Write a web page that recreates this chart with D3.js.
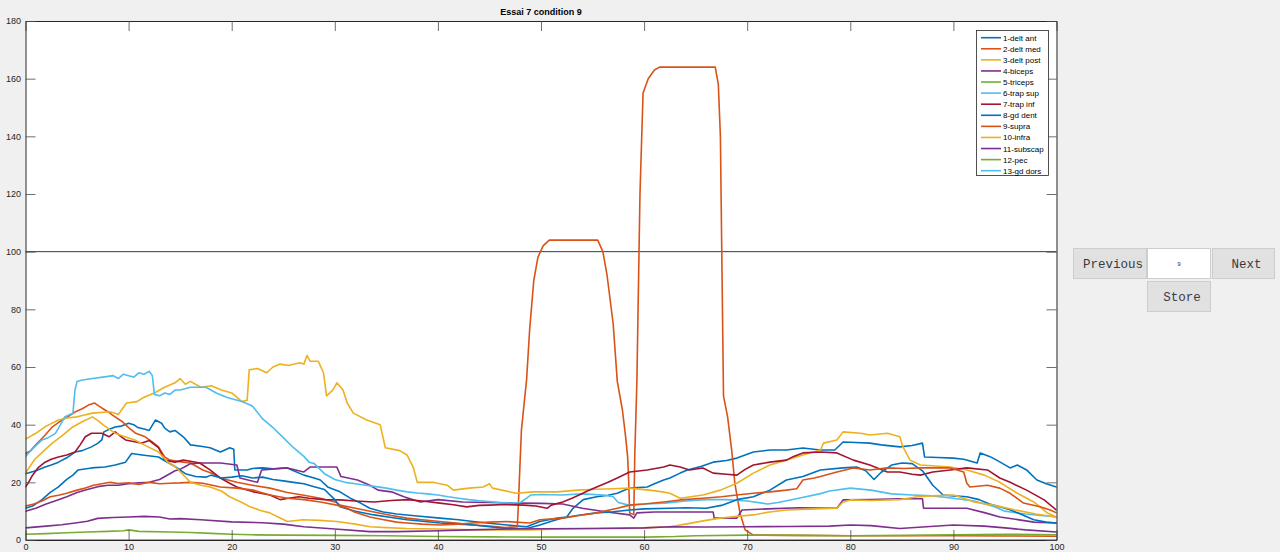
<!DOCTYPE html>
<html>
<head>
<meta charset="utf-8">
<script src="https://cdn.jsdelivr.net/npm/d3@7"></script>
<style>
  html, body { margin: 0; padding: 0; background: #f0f0f0; }
  svg { display: block; }
</style>
</head>
<body>
<svg id="fig" width="1280" height="552"></svg>
<script>
// ---- EMG envelopes, Essai 7 condition 9 (x: % of movement, y: % reference) ----
const muscleLabels = ["1-delt ant","2-delt med","3-delt post","4-biceps","5-triceps","6-trap sup",
  "7-trap inf","8-gd dent","9-supra","10-infra","11-subscap","12-pec","13-gd dors"];
const xTicks = [0,10,20,30,40,50,60,70,80,90,100];
const yTicks = [0,20,40,60,80,100,120,140,160,180];
const refLevel = 100;
const trialIndex = "9";

const deltAnt = [[0,23],[0.5,23.5],[1,24],[1.9,25.3],[2.5,26],[3.2,27],[4,28.5],[4.8,30.5],[5.5,31],[6.4,32.3],[7,33.5],[7.4,34.7],[7.6,37.5],[8.2,38.5],[8.7,39.2],[9.3,39.5],[10,40.5],[10.5,40],[10.9,39],[11.5,38.5],[12,38],[12.6,41.6],[13.2,40.5],[13.5,38.8],[14,37.5],[14.5,38],[15.3,35.8],[16,33],[17,32.5],[17.9,32],[18.9,30.5],[19.5,31.5],[19.8,32],[20.2,31.5],[20.3,24.3],[21.5,24.3],[22,24.8],[23,25],[24,24.7],[25.4,25],[26,24],[27,22.5],[28,21.5],[28.6,20.8],[29.3,18.4],[30.5,16.7],[31.5,14.5],[32.5,12.8],[33.4,11],[34.7,9.7],[36,9],[38,8.3],[40.2,7.6],[42,7],[43.4,6.4],[45,5.8],[46.7,5.2],[48.6,4.6],[49.9,6.4],[51.6,7.6],[52.5,8],[53.1,11],[54.1,14],[55.4,15],[56.5,15.5],[57.4,16.2],[58.6,18],[60.3,18.4],[61,19.5],[61.9,20.8],[62.5,21.5],[63.5,23.2],[64.2,24.3],[65.5,25.5],[66.7,27],[68,27.6],[69,28.4],[70.6,30.5],[72.2,31.2],[73.8,31.2],[75.4,31.9],[77.1,31.2],[78.5,31.2],[79.3,34],[80.5,33.8],[81.9,33.6],[83,33],[84.8,32.3],[86,32.8],[87,33.6],[87.2,28.8],[88.5,28.6],[90,28.4],[91,28],[92.3,26.7],[92.6,30.2],[93.5,29],[94.2,27.7],[95.5,25],[96.2,26],[97.1,24.3],[98.1,20.8],[99,19.5],[100,18.4]];

const deltMed = [[0,30],[0.5,31],[1,33],[1.8,36],[2.6,39.2],[3.5,41.5],[4.2,43],[4.8,44.4],[5.5,45.5],[6.1,46.8],[6.7,47.5],[7.1,46.5],[7.4,45.8],[8,44.5],[8.4,43.4],[9.4,41],[10,39],[10.7,37],[11.6,35.8],[12.3,34],[12.9,32.3],[13.5,28.8],[14,27.7],[15.3,27],[16,26.7],[17.2,24.3],[18.2,23],[18.9,21.5],[20.5,20],[22,19],[23.7,18],[25.4,16.5],[27,15.5],[28.6,14.5],[30.2,13],[30.5,12.1],[32,11],[33.8,9.7],[35.5,8.5],[37,7.6],[38.5,7],[40.2,6.4],[42,5.8],[43.4,5.2],[45,4.8],[46.5,4.3],[47.7,4.6],[47.8,11.5],[47.9,20.8],[48.1,38],[48.4,48.6],[48.6,55.5],[48.9,73],[49.3,90],[49.7,98],[50.2,102],[50.8,104],[55.5,104],[56,100],[56.4,92],[57,75],[57.4,55],[57.9,45],[58.2,36],[58.4,29],[58.5,21],[58.6,9.4],[59,8.8],[59.1,30],[59.3,55],[59.6,120],[59.9,155],[60.4,160],[61,163],[61.5,164],[66.9,164],[67.2,158],[67.4,140],[67.6,80],[67.7,50],[68.1,42.7],[68.5,31],[68.8,19.7],[69.3,9.4],[69.8,3.5],[70.6,1.7],[75,1.6],[80,1.5],[85,1.5],[90,1.5],[95,1.4],[100,1.3]];

const deltPost = [[0,35],[1,37],[2,39.5],[3.2,41.6],[4,42.3],[5,42.7],[5.3,43],[6.5,44],[8.2,44.5],[9,43.5],[9.8,47.5],[10.8,48],[11.5,49.5],[12.5,51],[13.5,53],[14.5,54.5],[15,56],[15.5,54],[16,55],[17,53],[18,53.5],[19,52],[20,51],[21,48],[21.5,48.5],[21.7,59],[22.5,59.5],[23.4,58],[24,60],[24.7,61],[25.5,60.5],[26.6,61.5],[27,61],[27.3,64],[27.6,62],[28.4,62],[28.9,58],[29.2,50],[29.8,52],[30.2,54.5],[30.8,52],[31.2,47.5],[31.8,44],[33.1,41.6],[34.4,40],[34.9,32],[36.3,31],[37,29.5],[37.6,25.3],[38,20],[39.5,20],[40.9,19],[41.5,17.3],[43,18],[44.4,18.4],[45,19.5],[45.3,18],[47.6,16.2],[49.3,16.7],[51.6,16.7],[53.5,17.3],[55.4,17.6],[57,17.8],[58.6,18],[60.5,17.3],[61.8,16.7],[62.5,16.2],[63.5,14.5],[65.7,15.6],[67.4,17.3],[69,19.7],[70.6,23.2],[72.2,26],[73.8,27.7],[75.4,29.5],[77.1,31.2],[77.4,33.6],[78.7,34.7],[79.3,37.5],[81,37],[81.9,36.4],[83.6,37],[84.8,35.8],[85.1,32.3],[85.8,27.7],[86.8,26],[89.7,25.3],[91.3,24.3],[93,22.5],[94.5,20],[96.2,16.2],[97.8,13.2],[99.1,9.4],[100,8]];

const biceps = [[0,10],[1,11],[2,12.5],[3.2,14],[4,15],[5,16.5],[6,17.5],[7,18.5],[8,19],[9,19],[10,19.5],[11,19.8],[12,20],[13,21],[14,23],[14.5,24],[15,24.5],[15.5,25.5],[16,26.5],[17,26.7],[18.9,26.7],[20.5,26],[20.8,21.5],[22.5,20],[22.9,24.3],[25.4,25],[27,23.6],[27.6,25.3],[30.2,25.3],[30.6,22],[32.2,20.8],[33.4,19],[34.2,17.3],[35.5,16.7],[36.7,15],[38.3,13.2],[40,14],[42.4,13.2],[45,13],[48,12.8],[50,12.7],[52.1,12.5],[54,11],[56.4,9.7],[58.6,8.7],[59,7.6],[59.3,9.4],[61,9.7],[63.5,9.7],[65,9.7],[66.7,9.7],[66.8,7.6],[69,7.6],[69.5,10.4],[72,10.8],[75,11.2],[78.7,11],[79.3,13.9],[82,14],[84.8,14.3],[87,14.3],[87.1,11],[89,11],[91.3,11],[93,9.5],[94.5,8],[96,7.2],[97.8,6.2],[100,5.9]];

const triceps = [[0,2],[2,2.2],[4,2.5],[6,2.8],[8,3],[9.5,3.2],[10,3.5],[11,3],[14,2.8],[16,2.6],[18,2.3],[20,2],[22,1.8],[25,1.7],[30,1.6],[35,1.5],[40,1.2],[45,1.1],[50,1],[55,1],[60,1],[63,1.2],[65,1.5],[70,1.7],[75,1.6],[80,1.5],[85,1.6],[90,1.8],[95,2],[100,1.8]];

const trapSup = [[0,29],[0.8,32],[1.6,34.7],[2.2,35.5],[2.9,37],[3.4,40],[3.8,42.7],[4.3,43.5],[4.6,44],[4.8,52],[5,55],[5.5,55.5],[6.5,56],[7.5,56.5],[8.5,57],[9,56],[9.5,57.5],[10,57],[10.5,56.5],[11,58],[11.5,57.5],[12,58.5],[12.3,57],[12.5,50.5],[13,50],[13.5,51],[14,50.5],[14.5,52],[15,52],[16,53],[17,53],[17.5,53],[18.5,51],[19.5,49.5],[20,49],[21,48],[22,46.5],[23,42],[24,39],[25,35.5],[26,32],[27,29],[27.5,27],[28,26.5],[29,23],[30,21],[31,20],[32,19.5],[33,19],[34,18.5],[35,18],[36,17.3],[37,16.7],[38,16.3],[39,16],[40,15.6],[41,15],[42,14.5],[43,14],[44,13.6],[45,13.3],[46,13],[47,12.8],[48,13],[48.6,14.5],[49,15.6],[50,15.8],[52,15.6],[54,16],[56,15.6],[57,15],[57.5,13],[58.5,12.1],[60,12.5],[62,12.8],[64,13.5],[66,14],[68,14],[70,13.5],[72,12.5],[73,13],[75,14.5],[77,16],[78,17],[80,18],[82,17.3],[84,16],[86,15.6],[88,15.3],[90,14.5],[92,13.5],[94,11.5],[95,10],[97,9],[98.5,8.5],[100,8]];

const trapInf = [[0,18.4],[0.3,20],[0.6,22],[1.2,25],[1.9,27],[2.5,28],[3.2,28.8],[4,29.5],[4.8,30.5],[5.3,33],[5.8,35.8],[6.4,37],[7.4,37],[8.1,35.8],[8.7,37.5],[9.2,36],[9.7,34.7],[10.7,34],[11.3,33.6],[12,34.5],[12.9,32],[13.5,27.7],[14.5,27],[15.3,27.7],[16,27.3],[16.9,26.7],[17.9,24.3],[18.9,21.5],[19.8,19.7],[20.5,18.4],[22.1,16.7],[23.7,15.6],[24.7,14],[25.5,14.5],[26.5,15],[27.5,14.5],[29,14],[30.5,13.9],[32,13.5],[33.8,13.2],[35.5,13.7],[37,14],[38.5,13.5],[40.2,12.8],[41.5,12.2],[42.8,11.5],[44,12],[45,12.1],[46.5,12.3],[48.3,12.1],[49.5,11.8],[50.6,11],[51,12.1],[52.1,13.2],[53,14.5],[53.7,15.6],[54.5,17],[55.4,18.4],[56.5,20],[57.4,21.5],[58.6,23.6],[60.3,24.3],[61.9,25.3],[62.5,26],[63.5,25.3],[64.4,24.3],[65.7,25],[66.7,23.2],[68,22.8],[69,22.5],[69.8,24.5],[70.6,26],[72.2,27],[73.8,27.7],[74.5,29],[75.4,30.2],[77.1,30.5],[78.7,30.2],[80.3,27.7],[81.9,26],[83.6,23.6],[84.8,23.6],[86,22.8],[86.8,22.5],[88,23.6],[89.7,24.3],[91.3,25],[93.3,24.3],[94.5,21.5],[95.5,20],[97.1,17.3],[98.8,13.9],[100,10.4]];

const gdDent = [[0,11],[0.8,12],[1.6,14],[2.4,16.5],[3.2,18.4],[4,21],[4.6,22.5],[5.1,24.3],[6.4,25],[7.7,25.3],[8.7,26],[9.7,27],[10.3,30],[11.3,29.5],[12.9,28.8],[13.5,27.5],[14.5,25.5],[15.5,23],[16.5,22],[17.5,21.8],[18,22.5],[19,21.5],[20,21.8],[21,22.3],[22,21.5],[23,21.8],[24,21],[25,20.5],[26,20],[27,19.5],[28,18.5],[29,17.5],[30,14],[30.5,11.5],[32,10],[33.8,8.7],[35.5,7.8],[37,7],[38.5,6.5],[40.2,5.9],[42,5.5],[43.5,5.2],[45,4.6],[46.7,4],[48.6,4],[49.9,5.2],[51,6.5],[52.1,7.6],[53.5,8.5],[55.4,9.4],[57,9.8],[58.6,10.4],[60,10.8],[62.5,11],[64,11.2],[66,11],[67.5,12],[69,14],[70.6,15],[72.2,17.3],[73.8,20.8],[75.4,22],[77.1,24.3],[79.3,25],[80.6,25.3],[81.5,24],[82.3,21],[83,23.5],[84,26],[85,26.7],[86,26.5],[87,24],[88,19],[89,15.6],[90,15.3],[91.3,15],[92.5,14],[93.5,12.5],[94.5,11.5],[95.5,10.5],[96.5,9],[97.8,7],[99,6.2],[100,5.9]];

const supra = [[0,11.8],[0.8,12.5],[1.6,13.5],[2.4,15],[3.2,15.5],[4,16.2],[5,17.3],[5.8,18],[6.6,19],[7.4,19.5],[8.2,20],[9,19.6],[10,19.8],[11,19.3],[12,20],[13,19.5],[14,19.7],[15,19.8],[16,20],[17.2,19.7],[18.9,18.4],[20.5,18],[22.1,17.3],[23.7,15.6],[25.4,14.5],[27,14],[28.6,13.2],[30.2,12.1],[31.2,11],[31.9,9.7],[33.4,8],[34.5,7.2],[36,6.2],[37,5.9],[38.5,5.5],[40.2,5.2],[42,5.5],[43.4,5.9],[45,6.2],[46.7,6.4],[48.9,5.9],[49.9,7],[52.1,7.6],[53.7,8.5],[55.4,9.4],[57.4,11],[58.6,12.1],[60,12.5],[61.9,13.2],[63.5,13.9],[65.7,14.5],[67.5,15],[69,15.6],[70.6,16.2],[72.2,16.7],[73.8,17.3],[74.8,17.8],[75.4,20.8],[76.5,21.5],[77.1,22],[78.7,23.6],[80.3,25],[81.9,24.3],[83.6,25],[85.2,24.8],[86.8,25],[88,25],[89.7,25],[91,23.6],[91.3,19.7],[91.6,18.4],[93.3,19],[94.5,18],[95.5,16.2],[96.8,12.8],[98.4,11.5],[99.4,10.4],[100,9.4]];

const infra = [[0,23.2],[0.9,28],[1.8,31],[2.6,33.6],[3.5,36],[4.5,39],[5.5,41],[6.5,42.7],[7,41.5],[7.5,40],[8.7,37],[9.5,36],[10.6,34.7],[11.5,33],[12.9,30.5],[13.8,27],[14.5,25.5],[15.2,23],[16,20],[17,19],[17.9,18.4],[19,17],[19.8,15],[21,13],[21.8,11.5],[22.8,10.2],[23.7,9.4],[24.5,8],[25.4,6.4],[26.9,7],[28.5,6.8],[30.2,6.4],[32,5.5],[33.4,4.6],[35,4.3],[37,4],[40,3.8],[43.4,3.5],[46,3.5],[48.9,3.5],[52,3.8],[55,4],[58,4],[60,4.2],[62.5,4.6],[64,5.5],[66,6.8],[67.4,7.6],[69,8.2],[70.6,8.7],[72,9.6],[73.8,10.4],[76,10.7],[78.7,11],[79.3,13.2],[80,13.9],[82,13.7],[84.8,14],[86.5,15],[88,15.3],[90,15.6],[91,14.5],[92,13.2],[94,12],[96,10.4],[98,9],[100,8]];

const subscap = [[0,4.2],[2,4.8],[3.5,5.3],[5,6],[6,6.5],[7,7.5],[8.5,7.8],[10,8],[11.5,8.2],[13,8],[14,7.3],[15,7.4],[17,7],[20,6.3],[23,6],[25,5.5],[27,4.6],[30,3.8],[33.4,2.9],[36,2.9],[40.2,3.2],[43,3.5],[46.7,3.8],[50,3.9],[55,4],[60,4.2],[62.5,4.6],[66,4.5],[70,4.6],[74,4.7],[78,4.8],[80,5.2],[82,5],[84.8,4],[87,4.5],[90,5.2],[93,4.8],[95,4.2],[97,3.5],[100,2.8]];

const pec = [[0,0],[25,0],[50,0],[75,0],[100,0]];
const gdDors = [[0,0],[25,0],[50,0],[75,0],[100,0]];

const seriesValues = [deltAnt, deltMed, deltPost, biceps, triceps, trapSup, trapInf,
  gdDent, supra, infra, subscap, pec, gdDors];
const lineColors = ["#0072BD","#D95319","#EDB120","#7E2F8E","#77AC30","#4DBEEE","#A2142F",
  "#0072BD","#D95319","#EDB120","#7E2F8E","#77AC30","#4DBEEE"];

// ---- layout ----
const svg = d3.select("#fig");
const plot = { left: 25.5, right: 1056.5, top: 21, bottom: 540 };
const font = "'Liberation Sans', Arial, Helvetica, sans-serif";
const axisInk = "#262626";

const x = d3.scaleLinear().domain([0, 100]).range([plot.left, plot.right]);
const y = d3.scaleLinear().domain([0, 180]).range([plot.bottom, plot.top]);

svg.append("rect").attr("width", 1280).attr("height", 552).attr("fill", "#f0f0f0");
svg.append("rect")
  .attr("x", plot.left).attr("y", plot.top)
  .attr("width", plot.right - plot.left).attr("height", plot.bottom - plot.top)
  .attr("fill", "#ffffff");

svg.append("clipPath").attr("id", "plotClip").append("rect")
  .attr("x", plot.left).attr("y", plot.top)
  .attr("width", plot.right - plot.left).attr("height", plot.bottom - plot.top);

// reference level line
svg.append("line")
  .attr("x1", x(0)).attr("x2", x(100))
  .attr("y1", y(refLevel)).attr("y2", y(refLevel))
  .attr("stroke", "#2a3a52").attr("stroke-width", 1);

// muscle traces
const line = d3.line().x(d => x(d[0])).y(d => y(d[1]));
svg.append("g").attr("clip-path", "url(#plotClip)")
  .selectAll("path").data(seriesValues).join("path")
  .attr("d", line)
  .attr("fill", "none")
  .attr("stroke", (d, i) => lineColors[i])
  .attr("stroke-width", 1.6)
  .attr("stroke-linejoin", "round")
  .attr("stroke-linecap", "round");

// axes (ticks point inward, box on all four sides)
function styleAxis(g) {
  g.select(".domain").attr("stroke", axisInk).attr("stroke-width", 1);
  g.selectAll(".tick line").attr("stroke", "#4a4a4a").attr("stroke-width", 0.8);
  g.selectAll(".tick text").attr("fill", axisInk).attr("font-family", font).attr("font-size", 9);
}
svg.append("g").attr("transform", `translate(0,${plot.bottom})`)
  .call(d3.axisBottom(x).tickValues(xTicks).tickSize(-10).tickSizeOuter(0).tickPadding(4))
  .call(styleAxis);
svg.append("g").attr("transform", `translate(0,${plot.top})`)
  .call(d3.axisTop(x).tickValues(xTicks).tickSize(-10).tickSizeOuter(0).tickFormat(""))
  .call(styleAxis);
svg.append("g").attr("transform", `translate(${plot.left},0)`)
  .call(d3.axisLeft(y).tickValues(yTicks).tickSize(-10).tickSizeOuter(0).tickPadding(4.5))
  .call(styleAxis);
svg.append("g").attr("transform", `translate(${plot.right},0)`)
  .call(d3.axisRight(y).tickValues(yTicks).tickSize(-10).tickSizeOuter(0).tickFormat(""))
  .call(styleAxis);

// title
svg.append("text")
  .attr("x", (plot.left + plot.right) / 2).attr("y", 15)
  .attr("text-anchor", "middle")
  .attr("font-family", font).attr("font-size", 9).attr("font-weight", "bold")
  .attr("fill", "#000").text("Essai 7 condition 9");

// legend
const legend = svg.append("g");
legend.append("rect")
  .attr("x", 976.5).attr("y", 30.5).attr("width", 72).attr("height", 145)
  .attr("fill", "#fff").attr("stroke", axisInk).attr("stroke-width", 0.8);
const legendY = d3.scalePoint().domain(muscleLabels).range([37.7, 170.7]);
const rows = legend.selectAll("g.row").data(muscleLabels).join("g")
  .attr("class", "row")
  .attr("transform", d => `translate(0,${legendY(d)})`);
rows.append("line")
  .attr("x1", 981).attr("x2", 1001).attr("y1", 0).attr("y2", 0)
  .attr("stroke", (d, i) => lineColors[i]).attr("stroke-width", 1.6);
rows.append("text")
  .attr("x", 1003).attr("y", 3)
  .attr("font-family", font).attr("font-size", 8).attr("fill", "#000")
  .text(d => d);

// navigation controls
const mono = "'Liberation Mono', 'Courier New', monospace";
const controls = [
  { label: "Previous", x: 1073, y: 248, w: 74, h: 31, fill: "#e1e1e1" },
  { label: trialIndex, x: 1147, y: 248, w: 64, h: 31, fill: "#ffffff", small: true },
  { label: "Next", x: 1212, y: 248, w: 63, h: 31, fill: "#e1e1e1" },
  { label: "Store", x: 1147, y: 281, w: 64, h: 31, fill: "#e1e1e1" }
];
const ctl = svg.selectAll("g.ctl").data(controls).join("g").attr("class", "ctl");
ctl.append("rect")
  .attr("x", d => d.x + 0.5).attr("y", d => d.y + 0.5)
  .attr("width", d => d.w - 1).attr("height", d => d.h - 1)
  .attr("fill", d => d.fill).attr("stroke", "#cdcdcd").attr("stroke-width", 1);
ctl.append("text")
  .attr("x", d => d.x + d.w / 2 + (d.small ? 0 : 3))
  .attr("y", d => d.y + d.h / 2 + (d.small ? 2 : 4))
  .attr("text-anchor", "middle")
  .attr("font-family", mono)
  .attr("font-size", d => d.small ? 6 : 12.5)
  .attr("fill", "#3a3a3a")
  .text(d => d.label);
</script>
</body>
</html>
